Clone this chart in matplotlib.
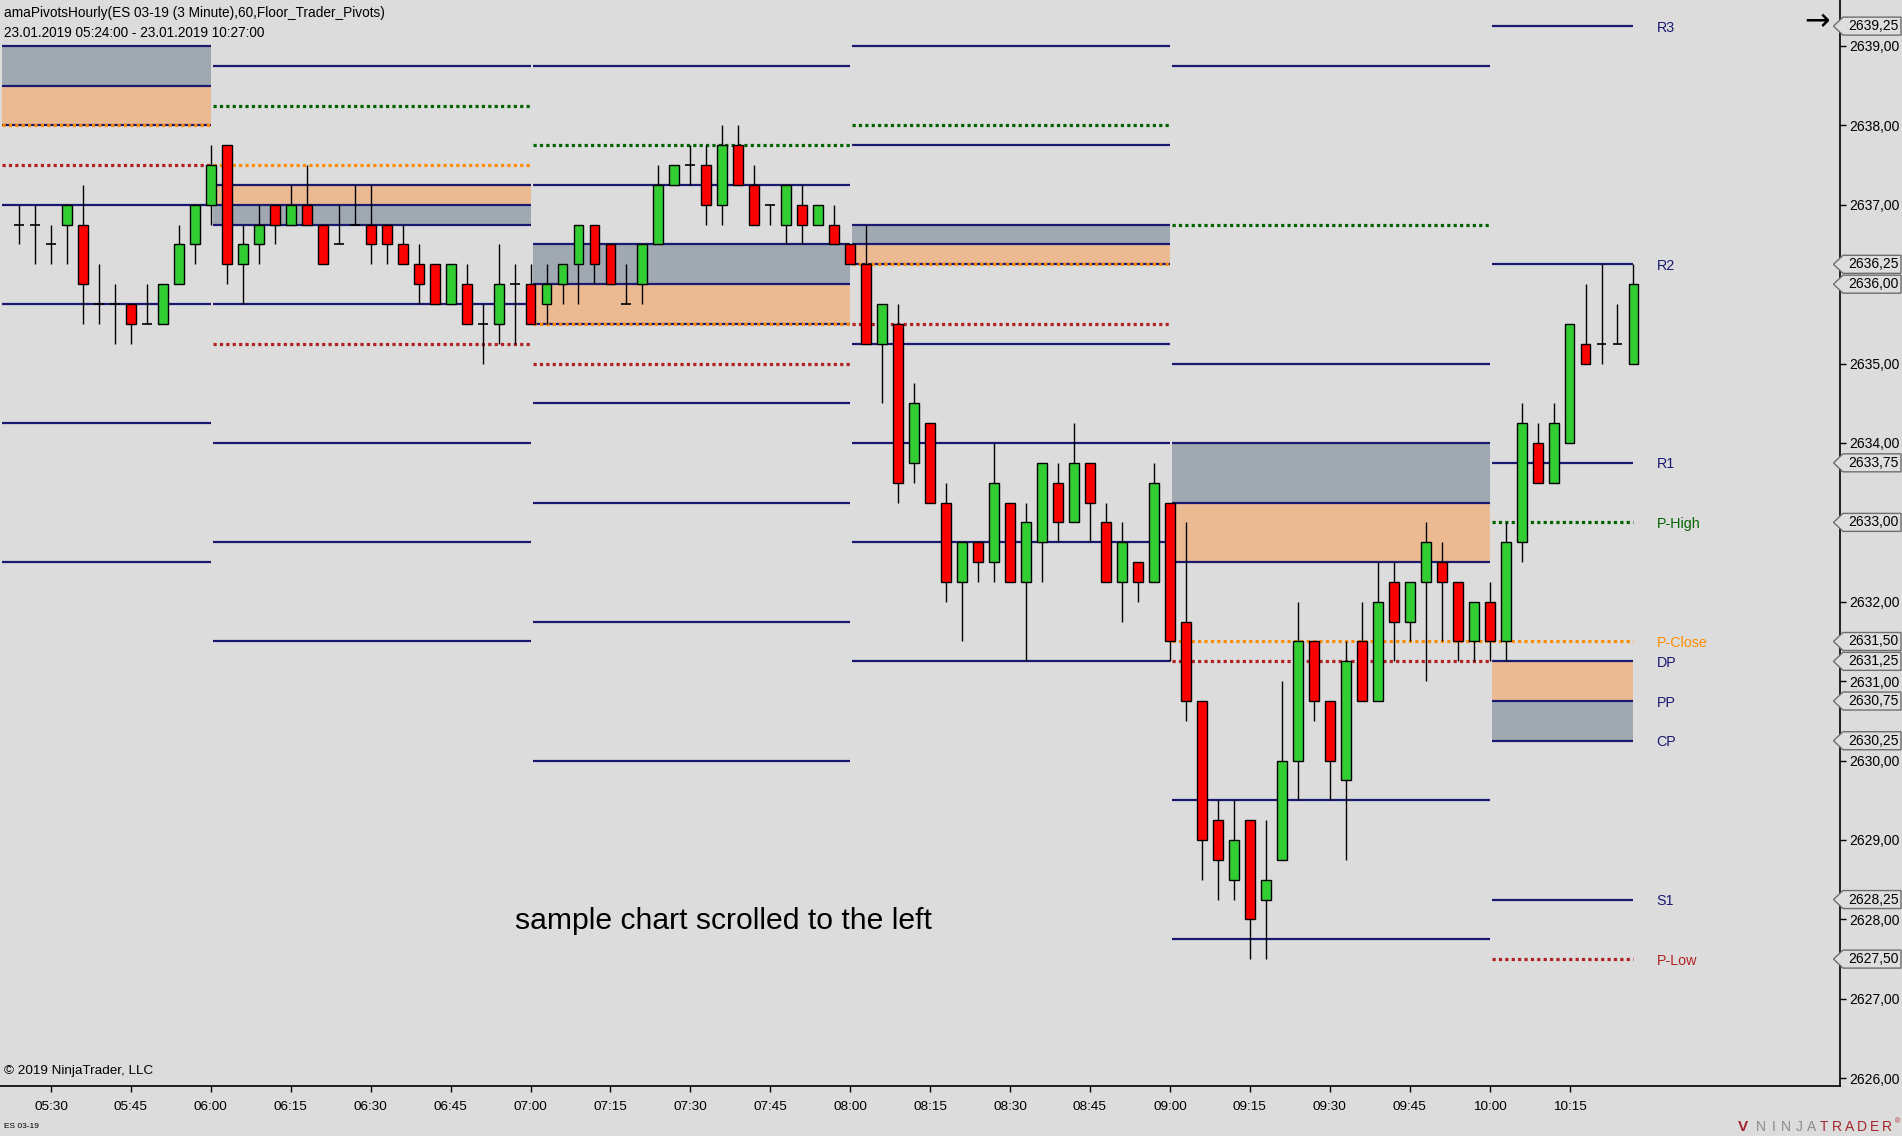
import numpy as np
import pandas as pd
import matplotlib
matplotlib.use("Agg")
import matplotlib.pyplot as plt
from matplotlib.patches import Polygon
import matplotlib.transforms as mtrans

plt.rcParams['font.family'] = ['Liberation Sans', 'DejaVu Sans']

# ---------------- data ----------------
bar_times = pd.date_range('2019-01-23 05:24', '2019-01-23 10:27', freq='3min').strftime('%H:%M').tolist()

opens = [2636.75, 2636.75, 2636.5, 2636.75, 2636.75, 2635.75, 2635.75, 2635.75, 2635.5, 2635.5,
         2636.0, 2636.5, 2637.0, 2637.75, 2636.25, 2636.5, 2637.0, 2636.75, 2637.0, 2636.75,
         2636.5, 2636.75, 2636.75, 2636.75, 2636.5, 2636.25, 2636.25, 2635.75, 2636.0, 2635.5,
         2635.5, 2636.0, 2636.0, 2635.75, 2636.0, 2636.25, 2636.75, 2636.5, 2635.75, 2636.0,
         2636.5, 2637.25, 2637.5, 2637.5, 2637.0, 2637.75, 2637.25, 2637.0, 2636.75, 2637.0,
         2636.75, 2636.75, 2636.5, 2636.25, 2635.25, 2635.5, 2633.75, 2634.25, 2633.25, 2632.25,
         2632.75, 2632.5, 2633.25, 2632.25, 2632.75, 2633.5, 2633.0, 2633.75, 2633.0, 2632.25,
         2632.5, 2632.25, 2633.25, 2631.75, 2630.75, 2629.25, 2628.5, 2629.25, 2628.25, 2628.75,
         2630.0, 2631.5, 2630.75, 2629.75, 2631.5, 2630.75, 2632.25, 2631.75, 2632.25, 2632.5,
         2632.25, 2631.5, 2632.0, 2631.5, 2632.75, 2634.0, 2633.5, 2634.0, 2635.25, 2635.25,
         2635.25, 2635.0]
highs = [2637.0, 2637.0, 2636.75, 2637.0, 2637.25, 2636.25, 2636.0, 2635.75, 2636.0, 2636.0,
         2636.75, 2637.0, 2637.75, 2637.75, 2636.75, 2637.0, 2637.0, 2637.25, 2637.5, 2636.75,
         2637.0, 2637.25, 2637.25, 2636.75, 2636.75, 2636.5, 2636.25, 2636.25, 2636.25, 2635.75,
         2636.5, 2636.25, 2636.25, 2636.25, 2636.25, 2636.75, 2636.75, 2636.5, 2636.25, 2636.5,
         2637.5, 2637.5, 2637.75, 2637.75, 2638.0, 2638.0, 2637.5, 2637.0, 2637.25, 2637.25,
         2637.0, 2637.0, 2636.5, 2636.75, 2635.75, 2635.75, 2634.75, 2634.25, 2633.5, 2632.75,
         2632.75, 2634.0, 2633.25, 2633.25, 2633.75, 2633.75, 2634.25, 2633.75, 2633.25, 2633.0,
         2632.5, 2633.75, 2633.25, 2633.0, 2630.75, 2629.5, 2629.5, 2629.25, 2629.25, 2631.0,
         2632.0, 2631.5, 2630.75, 2631.5, 2632.0, 2632.5, 2632.5, 2632.25, 2633.0, 2632.75,
         2632.25, 2632.0, 2632.25, 2633.0, 2634.5, 2634.25, 2634.5, 2635.5, 2636.0, 2636.25,
         2635.75, 2636.25]
lows = [2636.5, 2636.25, 2636.25, 2636.25, 2635.5, 2635.5, 2635.25, 2635.25, 2635.5, 2635.5,
        2636.0, 2636.25, 2636.75, 2636.0, 2635.75, 2636.25, 2636.5, 2636.75, 2636.75, 2636.25,
        2636.5, 2636.75, 2636.25, 2636.25, 2636.25, 2635.75, 2635.75, 2635.75, 2635.5, 2635.0,
        2635.25, 2635.25, 2635.5, 2635.5, 2635.75, 2635.75, 2636.0, 2636.0, 2635.75, 2635.75,
        2636.5, 2637.25, 2637.25, 2636.75, 2636.75, 2637.25, 2636.75, 2636.75, 2636.5, 2636.5,
        2636.75, 2636.5, 2636.25, 2635.25, 2634.5, 2633.25, 2633.5, 2633.25, 2632.0, 2631.5,
        2632.25, 2632.25, 2632.25, 2631.25, 2632.25, 2632.75, 2633.0, 2632.75, 2632.25, 2631.75,
        2632.0, 2632.25, 2631.25, 2630.5, 2628.5, 2628.25, 2628.25, 2627.5, 2627.5, 2628.75,
        2629.5, 2630.5, 2629.5, 2628.75, 2630.75, 2630.75, 2631.25, 2631.5, 2631.0, 2631.5,
        2631.25, 2631.25, 2631.25, 2631.25, 2632.5, 2633.5, 2633.5, 2634.0, 2635.0, 2635.0,
        2635.25, 2635.0]
closes = [2636.75, 2636.75, 2636.5, 2637.0, 2636.0, 2635.75, 2635.75, 2635.5, 2635.5, 2636.0,
          2636.5, 2637.0, 2637.5, 2636.25, 2636.5, 2636.75, 2636.75, 2637.0, 2636.75, 2636.25,
          2636.5, 2636.75, 2636.5, 2636.5, 2636.25, 2636.0, 2635.75, 2636.25, 2635.5, 2635.5,
          2636.0, 2636.0, 2635.5, 2636.0, 2636.25, 2636.75, 2636.25, 2636.0, 2635.75, 2636.5,
          2637.25, 2637.5, 2637.5, 2637.0, 2637.75, 2637.25, 2636.75, 2637.0, 2637.25, 2636.75,
          2637.0, 2636.5, 2636.25, 2635.25, 2635.75, 2633.5, 2634.5, 2633.25, 2632.25, 2632.75,
          2632.5, 2633.5, 2632.25, 2633.0, 2633.75, 2633.0, 2633.75, 2633.25, 2632.25, 2632.75,
          2632.25, 2633.5, 2631.5, 2630.75, 2629.0, 2628.75, 2629.0, 2628.0, 2628.5, 2630.0,
          2631.5, 2630.75, 2630.0, 2631.25, 2630.75, 2632.0, 2631.75, 2632.25, 2632.75, 2632.25,
          2631.5, 2632.0, 2631.5, 2632.75, 2634.25, 2633.5, 2634.25, 2635.5, 2635.0, 2635.25,
          2635.25, 2636.0]

# hourly pivot segments (hour start boundaries)
seg_boundaries = ['06:00', '07:00', '08:00', '09:00', '10:00']
nan = np.nan
R3 = [nan, nan, nan, nan, nan, 2639.25]
R2 = [nan, nan, 2638.75, 2639.0, 2638.75, 2636.25]
R1 = [nan, 2638.75, 2637.25, 2637.75, 2635.0, 2633.75]
DP = [2638.0, 2637.25, 2635.5, 2636.25, 2632.5, 2631.25]
PP = [2638.5, 2637.0, 2636.0, 2636.5, 2633.25, 2630.75]
CP = [2639.0, 2636.75, 2636.5, 2636.75, 2634.0, 2630.25]
S1 = [2637.0, 2635.75, 2634.5, 2635.25, 2629.5, 2628.25]
S2 = [2635.75, 2634.0, 2633.25, 2634.0, 2627.75, nan]
S3 = [2634.25, 2632.75, 2631.75, 2632.75, nan, nan]
S4 = [2632.5, 2631.5, 2630.0, 2631.25, nan, nan]
P_high = [nan, 2638.25, 2637.75, 2638.0, 2636.75, 2633.0]
P_close = [2638.0, 2637.5, 2635.5, 2636.25, 2631.5, 2631.5]
P_low = [2637.5, 2635.25, 2635.0, 2635.5, 2631.25, 2627.5]

xtick_labels = ['05:30', '05:45', '06:00', '06:15', '06:30', '06:45', '07:00', '07:15', '07:30',
                '07:45', '08:00', '08:15', '08:30', '08:45', '09:00', '09:15', '09:30', '09:45',
                '10:00', '10:15']

# ---------------- style ----------------
BG = '#DCDCDC'
NAVY = '#191970'
GRAYBOX = '#A0A9B2'
ORANGEBOX = '#EBBA92'
C_HIGH = '#006400'
C_CLOSE = '#FF8C00'
C_LOW = '#B22222'
UP = '#32CD32'
DOWN = '#FF0000'

W, H = 1902, 1136
fig = plt.figure(figsize=(W / 100, H / 100), dpi=100, facecolor=BG)
ax_w_px, ax_h_px = 1840.0, 1085.5
ax = fig.add_axes([0, 1 - ax_h_px / H, ax_w_px / W, ax_h_px / H])
ax.set_facecolor(BG)

x = np.arange(len(bar_times))
o = np.array(opens); h = np.array(highs); l = np.array(lows); c = np.array(closes)

ax.set_xlim(-1.19, 113.92)
ax.set_ylim(2625.908, 2639.579)

# segments
bidx = [bar_times.index(t) for t in seg_boundaries]
seg_x0 = [-1.05] + [b + 0.14 for b in bidx]
seg_x1 = bidx + [len(bar_times) - 1]

for k in range(len(seg_x0)):
    x0, x1 = seg_x0[k], seg_x1[k]
    ax.fill_between([x0, x1], [CP[k]] * 2, [PP[k]] * 2, color=GRAYBOX, lw=0, zorder=1)
    ax.fill_between([x0, x1], [PP[k]] * 2, [DP[k]] * 2, color=ORANGEBOX, lw=0, zorder=1)
    for arr in (R3, R2, R1, DP, PP, CP, S1, S2, S3, S4):
        v = arr[k]
        if not np.isnan(v):
            ax.plot([x0, x1], [v, v], color=NAVY, lw=1.6, solid_capstyle='butt', zorder=2)
    for arr, col in ((P_high, C_HIGH), (P_close, C_CLOSE), (P_low, C_LOW)):
        v = arr[k]
        if not np.isnan(v):
            ax.plot([x0, x1], [v, v], color=col, lw=2.3, linestyle=(0, (1, 1)),
                    dash_capstyle='butt', zorder=3)

# candles
ax.vlines(x, l, h, color='black', lw=1.0, zorder=4)
body_mask = o != c
colors = np.where(c > o, UP, DOWN)
ax.bar(x[body_mask], np.abs(c - o)[body_mask], bottom=np.minimum(o, c)[body_mask], width=0.62,
       color=colors[body_mask], edgecolor='black', linewidth=1.0, zorder=5)
doji = ~body_mask
ax.hlines(c[doji], x[doji] - 0.31, x[doji] + 0.31, color='black', lw=1.2, zorder=5)

# labels for current (last) segment
last_labels = [('R3', R3[-1], NAVY), ('R2', R2[-1], NAVY), ('R1', R1[-1], NAVY),
               ('P-High', P_high[-1], C_HIGH), ('P-Close', P_close[-1], C_CLOSE),
               ('DP', DP[-1], NAVY), ('PP', PP[-1], NAVY), ('CP', CP[-1], NAVY),
               ('S1', S1[-1], NAVY), ('P-Low', P_low[-1], C_LOW)]
lab_x = seg_x1[-1] + 1.45
for name, v, col in last_labels:
    ax.text(lab_x, v - 0.02, name, color=col, fontsize=10.3, va='center', ha='left', zorder=6)

# axes styling
for s in ('top', 'left'):
    ax.spines[s].set_visible(False)
for s in ('right', 'bottom'):
    ax.spines[s].set_color('black')
    ax.spines[s].set_linewidth(1.2)

flag_values = [R3[-1], R2[-1], closes[-1], R1[-1], P_high[-1], P_close[-1], DP[-1], PP[-1],
               CP[-1], S1[-1], P_low[-1]]

ax.yaxis.tick_right()
yt = np.arange(2626, 2640, 1.0)
ax.set_yticks(yt)
ax.set_yticklabels(['' if min(abs(v - f) for f in flag_values) < 0.2 else f"{v:.2f}".replace('.', ',')
                    for v in yt])
ax.tick_params(axis='y', direction='out', length=4.5, width=1, pad=2.5, labelsize=10,
               colors='black')

ax.set_xticks([bar_times.index(t) for t in xtick_labels])
ax.set_xticklabels(xtick_labels)
ax.tick_params(axis='x', direction='out', length=4, width=1, pad=7, labelsize=9.7, colors='black')

# price flags on the right axis
tr = mtrans.blended_transform_factory(ax.transAxes, ax.transData)
hh = 9.0 / 79.4
xt, xb, xr = 1833.5 / ax_w_px, 1843 / ax_w_px, 1901 / ax_w_px
for v in flag_values:
    poly = Polygon([(xt, v), (xb, v + hh), (xr, v + hh), (xr, v - hh), (xb, v - hh)],
                   closed=True, facecolor='#DEDEDE', edgecolor='#6E6E6E', lw=1.0,
                   transform=tr, clip_on=False, zorder=10)
    ax.add_patch(poly)
    ax.text(1848.5 / ax_w_px, v, f"{v:.2f}".replace('.', ','), transform=tr, fontsize=10,
            va='center', ha='left', color='black', clip_on=False, zorder=11)

ax.text(1817 / ax_w_px, 2639.31, '→', transform=tr, fontsize=22, ha='center', va='center',
        color='black', family=['DejaVu Sans'])

# texts
fig.text(4 / W, 1 - 13 / H, 'amaPivotsHourly(ES 03-19 (3 Minute),60,Floor_Trader_Pivots)',
         fontsize=9.8, va='center', ha='left', color='black')
fig.text(4 / W, 1 - 33 / H, '23.01.2019 05:24:00 - 23.01.2019 10:27:00',
         fontsize=9.8, va='center', ha='left', color='black')
fig.text(723 / W, 1 - 921 / H, 'sample chart scrolled to the left', fontsize=21.7,
         va='center', ha='center', color='black')
fig.text(4 / W, 1 - 1071 / H, '© 2019 NinjaTrader, LLC', fontsize=9.7, va='center', ha='left',
         color='black')
fig.text(4 / W, 1 - 1127 / H, 'ES 03-19', fontsize=6, va='center', ha='left', color='black')

logo = 'NINJATRADER'
for i, ch in enumerate(logo):
    col = '#8C8C8C' if i < 5 else '#A3262A'
    fig.text((1761 + i * 12.6) / W, 1 - 1127 / H, ch, fontsize=10, va='center', ha='center',
             color=col)
fig.text(1900 / W, 1 - 1122 / H, '®', fontsize=5, va='center', ha='right', color='#A3262A')
fig.text(1743 / W, 1 - 1127 / H, 'V', fontsize=11, va='center', ha='center', color='#A3262A',
         fontweight='bold')

fig.savefig('out.png', dpi=100, facecolor=BG)
